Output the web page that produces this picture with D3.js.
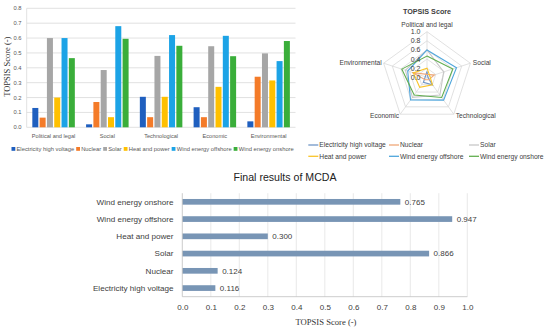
<!DOCTYPE html>
<html>
<head>
<meta charset="utf-8">
<script src="https://cdn.jsdelivr.net/npm/d3@7"></script>
<style>
  body { margin: 0; background: #fff; }
  svg { display: block; font-family: "Liberation Sans", Arial, sans-serif; }
</style>
</head>
<body>
<div id="chart"></div>
<script>
// criteria and technologies
const criteria = ["Political and legal", "Social", "Technological", "Economic", "Environmental"];
const techs = ["Electricity high voltage", "Nuclear", "Solar", "Heat and power", "Wind energy offshore", "Wind energy onshore"];

// TOPSIS score per technology, one value per criterion
const ehv      = [0.130, 0.020, 0.205, 0.135, 0.040];
const nuclear  = [0.065, 0.170, 0.068, 0.068, 0.340];
const solar    = [0.600, 0.385, 0.480, 0.545, 0.497];
const heat     = [0.200, 0.068, 0.205, 0.272, 0.315];
const offshore = [0.600, 0.680, 0.620, 0.615, 0.445];
const onshore  = [0.465, 0.595, 0.548, 0.478, 0.580];

// final MCDA results
const finalScores = [0.116, 0.124, 0.866, 0.300, 0.947, 0.765];

const barTicks = [0, 0.1, 0.2, 0.3, 0.4, 0.5, 0.6, 0.7, 0.8];
const radarTicks = [0, 0.2, 0.4, 0.6, 0.8, 1.0];
const finalTicks = [0, 0.1, 0.2, 0.3, 0.4, 0.5, 0.6, 0.7, 0.8, 0.9, 1.0];

const series = [ehv, nuclear, solar, heat, offshore, onshore];
const barColors = ["#1f5fbf", "#f47b29", "#a6a6a6", "#ffc000", "#1ca3e6", "#3aae3a"];
const radarColors = ["#7197c6", "#f0a878", "#c8c8c8", "#f9c42a", "#4fa6dc", "#62ae50"];

const width = 550, height = 331;
const svg = d3.select("#chart").append("svg")
    .attr("width", width)
    .attr("height", height);

const grid = "#d9d9d9";
const txt = "#595959";

// ---------- top-left grouped bars ----------
const x0 = d3.scaleBand().domain(criteria).range([26.7, 295.5]);
const x1 = d3.scaleBand().domain(d3.range(techs.length)).range([0, x0.bandwidth()])
    .paddingInner(0.178).paddingOuter(0.77);
const y = d3.scaleLinear().domain([0, 0.8]).range([127.3, 8.3]);

const g1 = svg.append("g");
g1.selectAll("line.grid").data(barTicks).enter().append("line")
    .attr("x1", 26.7).attr("x2", 295.5)
    .attr("y1", d => y(d)).attr("y2", d => y(d))
    .attr("stroke", grid).attr("stroke-width", 0.8);
g1.append("line").attr("x1", 26.7).attr("x2", 26.7).attr("y1", y(0.8)).attr("y2", y(0))
    .attr("stroke", grid).attr("stroke-width", 0.8);

g1.selectAll("text.ytick").data(barTicks).enter().append("text")
    .attr("x", 21.5).attr("y", d => y(d)).attr("dy", "0.35em")
    .attr("text-anchor", "end").attr("font-size", 5.8).attr("fill", txt)
    .text(d3.format(".1f"));

g1.selectAll("g.cat").data(criteria).enter().append("g")
    .attr("transform", d => "translate(" + x0(d) + ",0)")
    .each(function (c, ci) {
        d3.select(this).selectAll("rect").data(series.map((s, i) => ({ i: i, v: s[ci] })))
            .enter().append("rect")
            .attr("x", d => x1(d.i))
            .attr("width", x1.bandwidth())
            .attr("y", d => y(d.v))
            .attr("height", d => y(0) - y(d.v))
            .attr("fill", d => barColors[d.i]);
    });

g1.selectAll("text.cat").data(criteria).enter().append("text")
    .attr("x", d => x0(d) + x0.bandwidth() / 2).attr("y", 138)
    .attr("text-anchor", "middle").attr("font-size", 5.6).attr("fill", txt)
    .text(d => d);

g1.append("text")
    .attr("transform", "translate(9.5,66.7) rotate(-90)")
    .attr("text-anchor", "middle")
    .attr("font-family", "Liberation Serif, Times New Roman, serif")
    .attr("font-size", 8.5).attr("fill", "#333")
    .text("TOPSIS Score (-)");

// legend under the bars
let lx = 11.5;
techs.forEach((t, i) => {
    g1.append("rect").attr("x", lx).attr("y", 147).attr("width", 3.8).attr("height", 3.8)
        .attr("fill", barColors[i]);
    const tt = g1.append("text").attr("x", lx + 5).attr("y", 151.2)
        .attr("font-size", 5.8).attr("fill", txt).text(t);
    lx += 5 + tt.node().getComputedTextLength() + 2;
});

// ---------- top-right radar ----------
const cx = 427, cy = 77.3;
const r = d3.scaleLinear().domain([0, 1]).range([0, 45.6]);
const ang = d3.scalePoint().domain(criteria).range([0, 2 * Math.PI * 4 / 5]);
const g2 = svg.append("g").attr("transform", "translate(" + cx + "," + cy + ")");

const ring = d3.lineRadial().angle(d => ang(d.c)).radius(d => r(d.v)).curve(d3.curveLinearClosed);

g2.selectAll("path.ring").data(radarTicks.slice(1)).enter().append("path")
    .attr("d", v => ring(criteria.map(c => ({ c: c, v: v }))))
    .attr("fill", "none").attr("stroke", grid).attr("stroke-width", 0.8);
g2.selectAll("line.spoke").data(criteria).enter().append("line")
    .attr("x1", 0).attr("y1", 0)
    .attr("x2", d => r(1) * Math.sin(ang(d)))
    .attr("y2", d => -r(1) * Math.cos(ang(d)))
    .attr("stroke", grid).attr("stroke-width", 0.8);

series.forEach((s, i) => {
    g2.append("path")
        .attr("d", ring(criteria.map((c, ci) => ({ c: c, v: s[ci] }))))
        .attr("fill", "none").attr("stroke", radarColors[i]).attr("stroke-width", 1.1);
});

g2.selectAll("text.rt").data(radarTicks).enter().append("text")
    .attr("x", -6.5).attr("y", d => -r(d)).attr("dy", "0.35em")
    .attr("text-anchor", "end").attr("font-size", 7).attr("fill", "#404040")
    .text(d3.format(".1f"));

const labelPos = [
    { dx: 0, dy: -7.3, anchor: "middle" },
    { dx: 2.5, dy: -0.8, anchor: "start" },
    { dx: 2, dy: 1.6, anchor: "start" },
    { dx: -1.2, dy: 1.6, anchor: "end" },
    { dx: -2, dy: -0.8, anchor: "end" }
];
g2.selectAll("text.axis").data(criteria).enter().append("text")
    .attr("x", (d, i) => r(1) * Math.sin(ang(d)) + labelPos[i].dx)
    .attr("y", (d, i) => -r(1) * Math.cos(ang(d)) + labelPos[i].dy)
    .attr("dy", "0.35em")
    .attr("text-anchor", (d, i) => labelPos[i].anchor)
    .attr("font-size", 6.6).attr("fill", "#404040")
    .text(d => d);

svg.append("text").attr("x", cx).attr("y", 13.5).attr("text-anchor", "middle")
    .attr("font-size", 7.2).attr("font-weight", "bold").attr("fill", "#404040")
    .text("TOPSIS Score");

// radar legend, 3 per row
const legCols = [308.3, 389, 469];
techs.forEach((t, i) => {
    const col = i % 3, row = Math.floor(i / 3);
    const lx2 = legCols[col], ly = 145 + row * 11.3;
    svg.append("line").attr("x1", lx2).attr("x2", lx2 + 10).attr("y1", ly).attr("y2", ly)
        .attr("stroke", radarColors[i]).attr("stroke-width", 1.3);
    svg.append("text").attr("x", lx2 + 11).attr("y", ly).attr("dy", "0.35em")
        .attr("font-size", 6.7).attr("fill", "#404040").text(t);
});

// ---------- bottom horizontal bars ----------
const xf = d3.scaleLinear().domain([0, 1]).range([182.3, 467.3]);
const yf = d3.scaleBand().domain(techs.slice().reverse()).range([193.2, 296.7])
    .paddingInner(0.67).paddingOuter(0.335);
const g3 = svg.append("g");

svg.append("text").attr("x", 285).attr("y", 181).attr("text-anchor", "middle")
    .attr("font-size", 10.6).attr("fill", "#222").text("Final results of MCDA");

g3.selectAll("line.vg").data(finalTicks.slice(1)).enter().append("line")
    .attr("x1", d => xf(d)).attr("x2", d => xf(d))
    .attr("y1", 193.2).attr("y2", 296.7)
    .attr("stroke", "#e3e3e3").attr("stroke-width", 0.8);

g3.selectAll("rect").data(techs).enter().append("rect")
    .attr("x", xf(0))
    .attr("y", d => yf(d))
    .attr("width", (d, i) => xf(finalScores[i]) - xf(0))
    .attr("height", yf.bandwidth())
    .attr("fill", "#7895b5");

g3.append("line").attr("x1", xf(0)).attr("x2", xf(0)).attr("y1", 193.2).attr("y2", 296.7)
    .attr("stroke", "#bfbfbf").attr("stroke-width", 0.8);
g3.append("line").attr("x1", xf(0)).attr("x2", xf(1)).attr("y1", 296.7).attr("y2", 296.7)
    .attr("stroke", "#bfbfbf").attr("stroke-width", 0.8);

g3.selectAll("text.val").data(techs).enter().append("text")
    .attr("x", (d, i) => xf(finalScores[i]) + 4.5)
    .attr("y", d => yf(d) + yf.bandwidth() / 2).attr("dy", "0.35em")
    .attr("font-size", 8).attr("fill", "#404040")
    .text((d, i) => d3.format(".3f")(finalScores[i]));

g3.selectAll("text.cat").data(techs).enter().append("text")
    .attr("x", 173.5)
    .attr("y", d => yf(d) + yf.bandwidth() / 2).attr("dy", "0.35em")
    .attr("text-anchor", "end").attr("font-size", 8.1).attr("fill", "#404040")
    .text(d => d);

const xAxis = d3.axisBottom(xf).tickValues(finalTicks).tickFormat(d3.format(".1f")).tickSize(0).tickPadding(8);
g3.append("g").attr("transform", "translate(0,296.7)").call(xAxis)
    .call(g => g.select(".domain").remove())
    .call(g => g.selectAll("text").attr("font-size", 8).attr("fill", "#404040")
        .attr("font-family", "Liberation Sans, Arial, sans-serif"));

svg.append("text").attr("x", 326).attr("y", 325)
    .attr("text-anchor", "middle")
    .attr("font-family", "Liberation Serif, Times New Roman, serif")
    .attr("font-size", 8.6).attr("fill", "#333")
    .text("TOPSIS Score (-)");
</script>
</body>
</html>
